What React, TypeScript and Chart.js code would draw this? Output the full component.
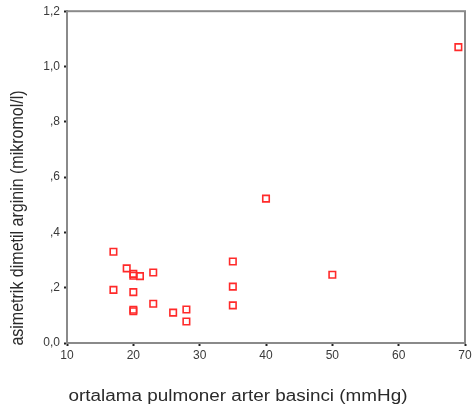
import React, { useEffect, useRef } from "react";
import { Chart, registerables } from "chart.js";

Chart.register(...registerables);

// mean pulmonary artery pressure (mmHg)
const pressureMmHg = [17, 17, 19, 20, 20, 21, 23, 20, 20, 20, 23, 26, 28, 28, 35, 35, 35, 40, 50, 69];
// asymmetric dimethyl arginine (micromol/l)
const admaMicromol = [0.33, 0.192, 0.27, 0.25, 0.243, 0.242, 0.255, 0.184, 0.12, 0.115, 0.142, 0.11, 0.121, 0.078, 0.295, 0.204, 0.136, 0.522, 0.247, 1.07];

const xTitle = "ortalama pulmoner arter basinci (mmHg)";
const yTitle = "asimetrik dimetil arginin (mikromol/l)";

const xMin = 10;
const xMax = 70;
const xStep = 10;
const yMin = 0;
const yMax = 1.2;
const yStep = 0.2;

const FONT = "'Liberation Sans', Arial, sans-serif";

function formatY(v: number): string {
  const s = v.toFixed(1).replace(".", ",");
  if (Math.abs(v) > 1e-9 && s.startsWith("0,")) return s.slice(1);
  return s;
}

const framePlugin = {
  id: "frame",
  beforeDatasetsDraw(chart: any) {
    const { ctx, chartArea } = chart;
    ctx.save();
    ctx.strokeStyle = "#8a8a8a";
    ctx.lineWidth = 2;
    ctx.strokeRect(chartArea.left, chartArea.top, chartArea.right - chartArea.left, chartArea.bottom - chartArea.top);
    ctx.restore();
  },
  afterDraw(chart: any) {
    const { ctx } = chart;
    ctx.save();
    ctx.fillStyle = "#2a2a2a";
    ctx.font = `16px ${FONT}`;
    ctx.textAlign = "center";
    ctx.textBaseline = "middle";
    // x title
    ctx.save();
    ctx.translate(238, 397);
    ctx.scale(1.18, 1);
    ctx.fillText(xTitle, 0, 0);
    ctx.restore();
    // y title
    ctx.save();
    ctx.translate(18, 218);
    ctx.scale(1.18, 1);
    ctx.rotate(-Math.PI / 2);
    ctx.fillText(yTitle, 0, 0);
    ctx.restore();
    ctx.restore();
  },
};

export default function App() {
  const canvasRef = useRef<HTMLCanvasElement | null>(null);

  useEffect(() => {
    const canvas = canvasRef.current;
    if (!canvas) return;
    const points = pressureMmHg.map((x, i) => ({ x, y: admaMicromol[i] }));
    const chart = new Chart(canvas, {
      type: "scatter",
      data: {
        datasets: [
          {
            data: points,
            pointStyle: "rect",
            pointRadius: 4.6,
            pointBorderWidth: 1.6,
            pointBorderColor: "#ff2a2a",
            pointBackgroundColor: "rgba(255,255,255,0)",
          },
        ],
      },
      options: {
        animation: false,
        responsive: false,
        devicePixelRatio: 1,
        layout: { padding: { top: 8, right: 10, left: 0, bottom: 0 } },
        plugins: {
          legend: { display: false },
          tooltip: { enabled: false },
        },
        scales: {
          x: {
            type: "linear",
            min: xMin,
            max: xMax,
            ticks: {
              stepSize: xStep,
              color: "#3a3a3a",
              font: { family: FONT, size: 12 },
              padding: 2,
              maxRotation: 0,
            },
            grid: {
              drawOnChartArea: false,
              tickLength: 3,
              tickColor: "#222",
              tickWidth: 2,
            },
            border: { color: "#7a7a7a", width: 2 },
            afterFit(scale: any) {
              scale.height = 66;
            },
          },
          y: {
            type: "linear",
            min: yMin,
            max: yMax,
            ticks: {
              stepSize: yStep,
              color: "#3a3a3a",
              font: { family: FONT, size: 12 },
              padding: 4,
              callback: (v: any) => formatY(Number(v)),
            },
            grid: {
              drawOnChartArea: false,
              tickLength: 3,
              tickColor: "#222",
              tickWidth: 2,
            },
            border: { color: "#6a6a6a", width: 2 },
            afterFit(scale: any) {
              scale.width = 67;
            },
          },
        },
      },
      plugins: [framePlugin],
    });
    return () => chart.destroy();
  }, []);

  return (
    <div style={{ position: "fixed", left: 0, top: 0, width: 475, height: 409, background: "#fff" }}>
      <canvas ref={canvasRef} width={475} height={409} style={{ display: "block" }} />
    </div>
  );
}
